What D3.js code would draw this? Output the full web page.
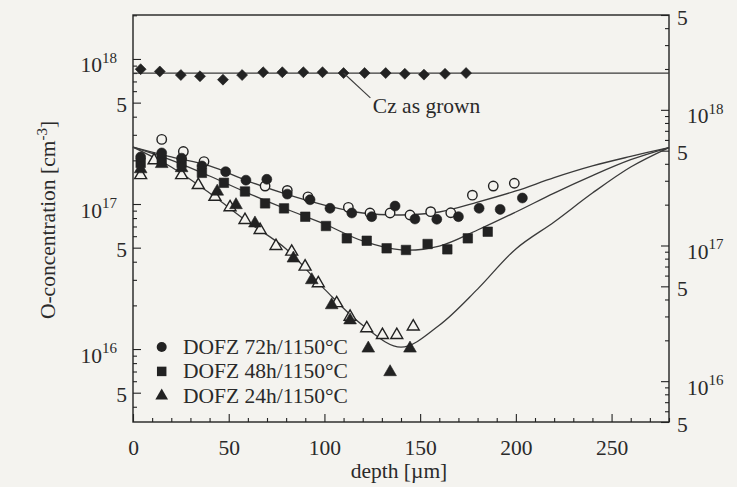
<!DOCTYPE html>
<html><head><meta charset="utf-8">
<script src="https://cdn.jsdelivr.net/npm/d3@7"></script>
</head>
<body style="margin:0;background:#f4f3ef">
<svg id="c" width="737" height="487" style="display:block"></svg>
<script>
// ---------- data ----------
const xTicks = [0, 50, 100, 150, 200, 250];
const leftMajorTicks = [5e15, 1e16, 5e16, 1e17, 5e17, 1e18];
const rightMajorTicks = [5e15, 1e16, 5e16, 1e17, 5e17, 1e18, 5e18];

const czDepth = [4, 14, 25, 35, 47, 57, 68, 78, 89, 99, 110, 121, 132, 142, 152, 163, 174];
const czValue = [8.5e17, 8.2e17, 7.75e17, 7.6e17, 7.2e17, 7.75e17, 8.1e17, 8.1e17, 8.1e17, 8.1e17, 8.0e17, 8.0e17, 8.0e17, 7.9e17, 7.8e17, 7.9e17, 8.0e17];
const czLevel = 8.0e17;

const curveDepth = [0, 20, 40, 60, 80, 100, 120, 140, 160, 180, 200, 220, 240, 260, 280];
const curve72 = [2.47e17, 2.11e17, 1.83e17, 1.44e17, 1.17e17, 9.84e16, 8.67e16, 8.40e16, 8.81e16, 1.03e17, 1.23e17, 1.52e17, 1.83e17, 2.13e17, 2.45e17];
const curve48 = [2.47e17, 2.01e17, 1.56e17, 1.19e17, 9.24e16, 7.28e16, 5.56e16, 4.82e16, 5.13e16, 6.62e16, 8.81e16, 1.19e17, 1.57e17, 2.02e17, 2.45e17];
const curve24 = [2.47e17, 1.80e17, 1.19e17, 7.52e16, 4.90e16, 2.59e16, 1.46e16, 1.03e16, 1.46e16, 2.59e16, 4.90e16, 7.52e16, 1.19e17, 1.80e17, 2.45e17];

const dofz72Filled = [[4,2.11e17],[15,2.25e17],[25.4,2.07e17],[36,1.83e17],[48.4,1.67e17],[59,1.46e17],[69.9,1.48e17],[80.6,1.17e17],[92.5,1.07e17],[102.9,9.34e16],[114.3,8.67e16],[124.7,8.18e16],[136.9,9.68e16],[147.3,7.88e16],[158.7,7.85e16],[170,8.18e16],[180.8,9.34e16],[191.8,9.18e16],[203.4,1.10e17]];
const dofz72Open = [[15,2.79e17],[26.3,2.30e17],[37.1,1.96e17],[69,1.33e17],[80.6,1.24e17],[91.4,1.12e17],[112.5,9.49e16],[123.8,8.67e16],[134.3,8.67e16],[144.7,8.40e16],[155.5,8.85e16],[166,8.70e16],[177.3,1.15e17],[188.2,1.33e17],[199.2,1.39e17]];
const dofz48Filled = [[4,1.92e17],[15,2.01e17],[25.4,1.92e17],[36,1.64e17],[47.5,1.40e17],[58.5,1.22e17],[69,1.01e17],[78.9,9.33e16],[90,8.17e16],[100.8,7.05e16],[111.7,5.80e16],[122.1,5.58e16],[132.5,4.95e16],[142.6,4.82e16],[153.9,5.30e16],[164.2,4.87e16],[174.9,5.80e16],[185.3,6.44e16]];
const dofz24Filled = [[4,1.74e17],[15,1.89e17],[25.4,1.77e17],[44,1.22e17],[53.8,9.84e16],[63.7,7.36e16],[83.8,4.22e16],[93.4,2.99e16],[103.8,2.01e16],[113.4,1.58e16],[122.9,1.01e16],[134.3,6.94e15],[144.7,1.01e16]];
const dofz24Open = [[4,1.58e17],[11,2.0e17],[25.4,1.58e17],[34.1,1.35e17],[42.8,1.12e17],[50.7,9.49e16],[58.5,7.76e16],[66.4,6.62e16],[74.7,5.13e16],[82.9,4.69e16],[89.9,3.70e16],[96.8,2.84e16],[106.4,2.07e16],[113.4,1.67e16],[122.1,1.39e16],[130.3,1.25e16],[137.8,1.25e16],[146.4,1.43e16]];

const legendLabels = ["DOFZ 72h/1150°C", "DOFZ 48h/1150°C", "DOFZ 24h/1150°C"];

// ---------- layout ----------
const L = 133, R = 669, T = 15, B = 422;
const ink = "#222";
const bg = "#f4f3ef";
const svg = d3.select("#c");

const x = d3.scaleLinear().domain([0, 280]).range([L, R]);
const yL = d3.scaleLog().domain([3.14e15, 2.01e18]).range([B, T]);
const yR = d3.scaleLog().domain([5e15, 5e18]).range([B, T]);

function logMinor(scale, majors) {
  const [a, b] = scale.domain();
  const out = [];
  for (let e = Math.floor(Math.log10(a)); e <= Math.ceil(Math.log10(b)); e++) {
    for (let k = 1; k <= 9; k++) {
      const v = k * Math.pow(10, e);
      if (v >= a * 0.999 && v <= b * 1.001 && !majors.includes(v)) out.push(v);
    }
  }
  return out;
}

function txt(sel) {
  return sel.style("font-family", "'Liberation Serif'").style("font-size", "21.5px").attr("fill", "#2a2a2a");
}

function styleAxis(g) {
  g.attr("font-family", null).attr("font-size", null);
  g.select(".domain").remove();
  g.selectAll("line").attr("stroke", ink).attr("stroke-width", 1.1);
  txt(g.selectAll("text"));
}

// frame
svg.append("rect").attr("x", L).attr("y", T).attr("width", R - L).attr("height", B - T)
  .attr("fill", "none").attr("stroke", ink).attr("stroke-width", 1.4);

// x axis
const xMinor = d3.range(0, 281, 10).filter(d => d % 50 !== 0);
svg.append("g").attr("transform", `translate(0,${B})`)
  .call(d3.axisBottom(x).tickValues(xMinor).tickSize(-4).tickFormat(""))
  .call(styleAxis);
const gx = svg.append("g").attr("transform", `translate(0,${B})`)
  .call(d3.axisBottom(x).tickValues(xTicks).tickSize(-8).tickFormat(d3.format("d")))
  .call(styleAxis);
gx.selectAll("text").attr("y", 33).attr("dy", 0);

function powLabel(sel) {
  sel.each(function(d) {
    const t = d3.select(this);
    const e = Math.round(Math.log10(d));
    const isPow = Math.abs(d - Math.pow(10, e)) < 1;
    t.text("");
    if (isPow) {
      t.append("tspan").text("10");
      t.append("tspan").text(e).attr("dy", -9.5).style("font-size", "15px");
      t.attr("dy", 13);
    } else {
      t.text("5").attr("dy", 9);
    }
  });
}

// left axis
svg.append("g").attr("transform", `translate(${L},0)`)
  .call(d3.axisLeft(yL).tickValues(logMinor(yL, leftMajorTicks)).tickSize(-4).tickFormat(""))
  .call(styleAxis);
const gl = svg.append("g").attr("transform", `translate(${L},0)`)
  .call(d3.axisLeft(yL).tickValues(leftMajorTicks).tickSize(-8).tickPadding(6))
  .call(styleAxis);
gl.selectAll(".tick text").call(powLabel);
gl.selectAll(".tick text").attr("x", d => (Math.abs(Math.log10(d) % 1) < 1e-9 ? -16 : -6));

// right axis
svg.append("g").attr("transform", `translate(${R},0)`)
  .call(d3.axisRight(yR).tickValues(logMinor(yR, rightMajorTicks)).tickSize(-4).tickFormat(""))
  .call(styleAxis);
const gr = svg.append("g").attr("transform", `translate(${R},0)`)
  .call(d3.axisRight(yR).tickValues(rightMajorTicks).tickSize(-8).tickPadding(8))
  .call(styleAxis);
gr.selectAll(".tick text").call(powLabel);
gr.selectAll(".tick text").attr("x", d => (Math.abs(Math.log10(d) % 1) < 1e-9 ? 18 : 8));

// axis titles
svg.append("text").attr("x", 399).attr("y", 478).attr("text-anchor", "middle")
  .call(txt).text("depth [µm]");
const yt = svg.append("text").attr("transform", "translate(55,220) rotate(-90)")
  .attr("text-anchor", "middle").call(txt);
yt.append("tspan").text("O-concentration [cm");
yt.append("tspan").text("-3").attr("dy", -8).style("font-size", "15px");
yt.append("tspan").text("]").attr("dy", 8);

// curves
const line = d3.line().x(d => x(d[0])).y(d => yL(d[1])).curve(d3.curveCatmullRom.alpha(0.5));
[curve72, curve48, curve24].forEach(c => {
  svg.append("path").datum(curveDepth.map((d, i) => [d, c[i]]))
    .attr("d", line).attr("fill", "none").attr("stroke", "#3a3a3a").attr("stroke-width", 1.3);
});
// Cz line
svg.append("path").datum([[0, czLevel], [280, czLevel]]).attr("d", d3.line().x(d => x(d[0])).y(d => yL(d[1])))
  .attr("stroke", "#3a3a3a").attr("stroke-width", 1.3);

// markers
function marks(data, type, size, filled, rot) {
  svg.append("g").selectAll("path").data(data).join("path")
    .attr("d", d3.symbol().type(type).size(size))
    .attr("transform", d => `translate(${x(d[0])},${yL(d[1])})` + (rot ? ` rotate(${rot})` : ""))
    .attr("fill", filled ? ink : bg).attr("stroke", ink).attr("stroke-width", filled ? 0.6 : 1.4);
}
marks(czDepth.map((d, i) => [d, czValue[i]]), d3.symbolSquare, 60, true, 45);
marks(dofz24Open, d3.symbolTriangle, 62, false);
marks(dofz72Open, d3.symbolCircle, 70, false);
marks(dofz48Filled, d3.symbolSquare, 90, true);
marks(dofz72Filled, d3.symbolCircle, 78, true);
marks(dofz24Filled, d3.symbolTriangle, 70, true);

// Cz annotation
svg.append("line").attr("x1", x(110)).attr("y1", yL(czLevel)).attr("x2", x(124)).attr("y2", yL(5.4e17))
  .attr("stroke", "#3a3a3a").attr("stroke-width", 1.1);
svg.append("text").attr("x", x(125.3)).attr("y", 113).call(txt).text("Cz as grown");

// legend
const legTypes = [d3.symbolCircle, d3.symbolSquare, d3.symbolTriangle];
const legSizes = [78, 90, 70];
legendLabels.forEach((lab, i) => {
  const cy = 347 + i * 24.4;
  svg.append("path").attr("d", d3.symbol().type(legTypes[i]).size(legSizes[i]))
    .attr("transform", `translate(161.7,${cy})`).attr("fill", ink);
  svg.append("text").attr("x", 183).attr("y", cy + 6.8).call(txt).text(lab);
});
</script>
</body></html>
